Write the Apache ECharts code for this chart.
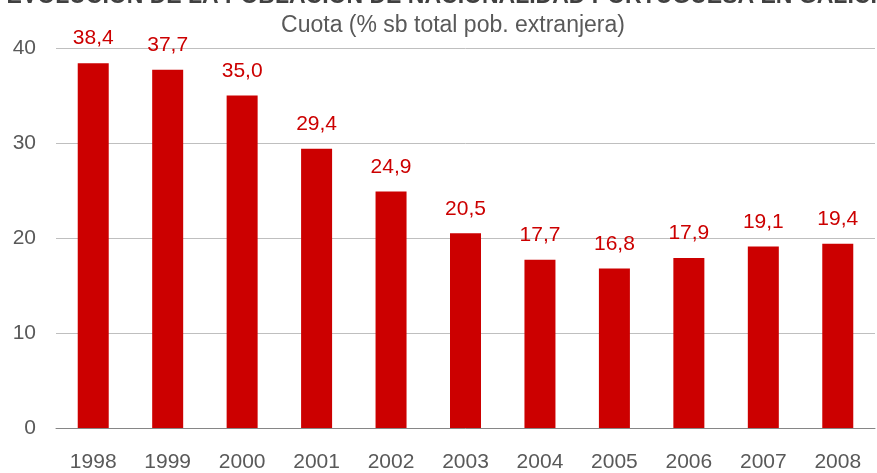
<!DOCTYPE html>
<html><head><meta charset="utf-8">
<script src="https://cdn.jsdelivr.net/npm/echarts@6/dist/echarts.min.js"></script>
<style>html,body{margin:0;padding:0;background:#fff}#c{width:877px;height:473px}</style>
</head><body><div id="c"></div>
<script>
const titleText = "EVOLUCIÓN DE LA POBLACIÓN DE NACIONALIDAD PORTUGUESA EN GALICIA";
const subtitleText = "Cuota (% sb total pob. extranjera)";
const years = ["1998","1999","2000","2001","2002","2003","2004","2005","2006","2007","2008"];
const shares = [38.4,37.7,35.0,29.4,24.9,20.5,17.7,16.8,17.9,19.1,19.4];
const yTicks = [0,10,20,30,40];

const chart = echarts.init(document.getElementById('c'));
const font = "'Liberation Sans', Arial, sans-serif";
chart.setOption({
  animation:false,
  title:[
    {text:titleText,left:445,textAlign:'center',top:-20,textStyle:{fontFamily:font,fontSize:23,fontWeight:'bold',color:'#404040'}},
    {text:subtitleText,left:448,textAlign:'center',top:9,textStyle:{fontFamily:font,fontSize:23,fontWeight:'normal',color:'#595959'}}
  ],
  grid:{left:56,right:2,top:48,bottom:41,containLabel:false},
  xAxis:{type:'category',data:years,
    axisLine:{lineStyle:{color:'#868686',width:1}},axisTick:{show:false},
    axisLabel:{fontFamily:font,fontSize:21,color:'#595959',margin:24}},
  yAxis:{type:'value',min:yTicks[0],max:yTicks[yTicks.length-1],interval:10,
    axisLine:{show:false},axisTick:{show:false},
    splitLine:{lineStyle:{color:'#BFBFBF',width:1}},
    axisLabel:{fontFamily:font,fontSize:21,color:'#595959',margin:20}},
  series:[{type:'bar',data:shares,barWidth:31,
    itemStyle:{color:'#CC0000'},
    label:{show:true,position:'top',distance:14,fontFamily:font,fontSize:21,color:'#CC0000',
      formatter:p=>p.value.toFixed(1).replace('.',',')}}]
});
</script></body></html>
